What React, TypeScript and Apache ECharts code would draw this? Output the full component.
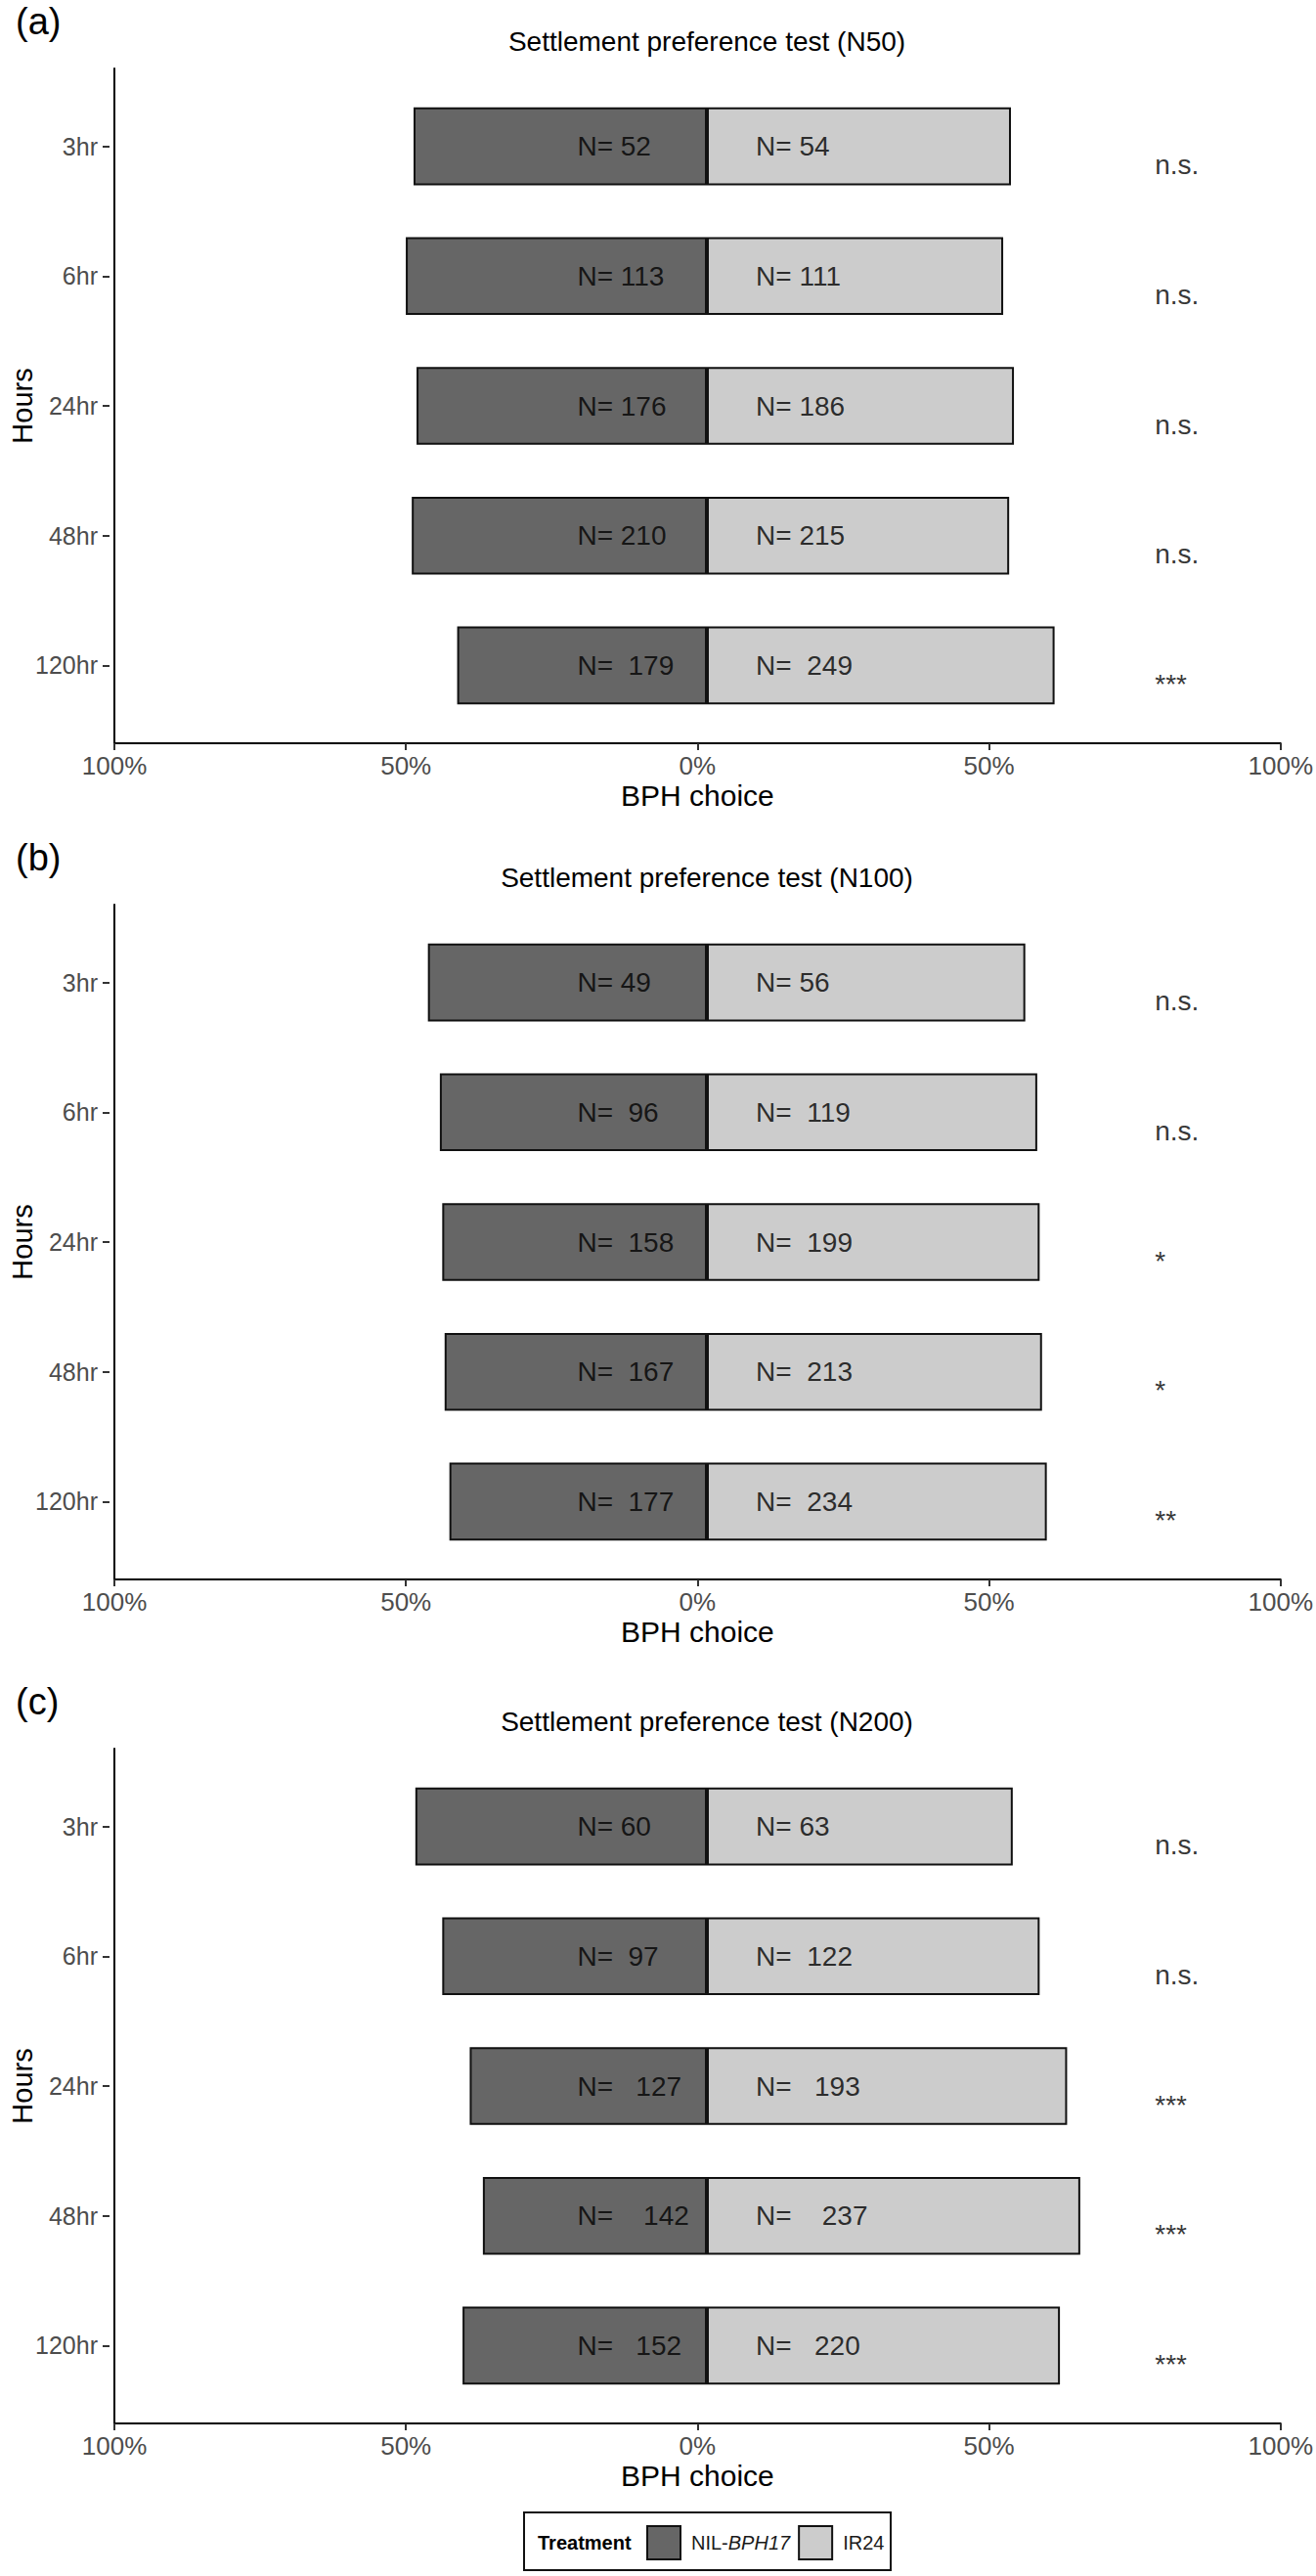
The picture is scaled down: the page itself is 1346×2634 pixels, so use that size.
import React, { useEffect, useRef } from "react";
import * as echarts from "echarts";

// ---------------- data ----------------
const CATEGORIES = ["3hr", "6hr", "24hr", "48hr", "120hr"];
const PANEL_TAGS = ["(a)", "(b)", "(c)"];
const PANEL_TITLES = [
  "Settlement preference test (N50)",
  "Settlement preference test (N100)",
  "Settlement preference test (N200)",
];
const SERIES_NAMES = ["NIL-BPH17", "IR24"];

// share of BPH choosing each line (%)
const NIL_PCT_A = [49.1, 50.4, 48.6, 49.4, 41.8];
const IR_PCT_A = [50.9, 49.6, 51.4, 50.6, 58.2];
const NIL_PCT_B = [46.7, 44.7, 44.3, 43.9, 43.1];
const IR_PCT_B = [53.3, 55.3, 55.7, 56.1, 56.9];
const NIL_PCT_C = [48.8, 44.3, 39.7, 37.5, 40.9];
const IR_PCT_C = [51.2, 55.7, 60.3, 62.5, 59.1];

// counts printed in the bars
const NIL_N_A = [52, 113, 176, 210, 179];
const IR_N_A = [54, 111, 186, 215, 249];
const NIL_N_B = [49, 96, 158, 167, 177];
const IR_N_B = [56, 119, 199, 213, 234];
const NIL_N_C = [60, 97, 127, 142, 152];
const IR_N_C = [63, 122, 193, 237, 220];

// number of spaces after "N=" in the printed labels
const GAP_A = [1, 1, 1, 1, 2];
const GAP_B = [1, 2, 2, 2, 2];
const GAP_C = [1, 2, 3, 4, 3];

// significance marks
const SIG_A = ["n.s.", "n.s.", "n.s.", "n.s.", "***"];
const SIG_B = ["n.s.", "n.s.", "*", "*", "**"];
const SIG_C = ["n.s.", "n.s.", "***", "***", "***"];

// axis
const X_MIN = -100;
const X_MAX = 100;
const X_INTERVAL = 50;

// ---------------- layout / style ----------------
const W = 1346;
const H = 2634;
const FONT = "'Liberation Sans', Arial, Helvetica, sans-serif";
const PANEL_TOPS = [70, 925, 1788];
const AXIS_H = 690;
const GRID_LEFT = 112;
const GRID_W = 1222;
const NIL_LABEL_X = -21.7;
const IR_LABEL_X = 8.2;
const SIG_X = 75;
const DARK = "#666666";
const LIGHT = "#CCCCCC";
const EDGE = "#111111";

const PANELS = [
  { nilPct: NIL_PCT_A, irPct: IR_PCT_A, nilN: NIL_N_A, irN: IR_N_A, gap: GAP_A, sig: SIG_A },
  { nilPct: NIL_PCT_B, irPct: IR_PCT_B, nilN: NIL_N_B, irN: IR_N_B, gap: GAP_B, sig: SIG_B },
  { nilPct: NIL_PCT_C, irPct: IR_PCT_C, nilN: NIL_N_C, irN: IR_N_C, gap: GAP_C, sig: SIG_C },
];

function nLabel(n: number, gap: number): string {
  return "N= " + "\u00A0".repeat(Math.max(0, gap - 1)) + String(n);
}

function buildOption(): any {
  const grid: any[] = [];
  const xAxis: any[] = [];
  const yAxis: any[] = [];
  const series: any[] = [];
  const graphic: any[] = [];
  const unit = AXIS_H / 5.2;

  PANELS.forEach((p, k) => {
    const top = PANEL_TOPS[k];
    const gFrame = grid.length;
    // frame grid (axis lines, x ticks)
    grid.push({ left: GRID_LEFT, width: GRID_W, top, height: AXIS_H, containLabel: false });
    // bar grid (category bands)
    grid.push({
      left: GRID_LEFT,
      width: GRID_W,
      top: top + 0.1 * unit,
      height: 5 * unit,
      containLabel: false,
    });

    xAxis.push({
      type: "value",
      gridIndex: gFrame,
      position: "bottom",
      min: X_MIN,
      max: X_MAX,
      interval: X_INTERVAL,
      axisLine: { show: true, onZero: false, lineStyle: { color: "#000", width: 2 } },
      axisTick: { show: true, length: 7, lineStyle: { color: "#333", width: 2 } },
      axisLabel: {
        show: true,
        showMinLabel: true,
        showMaxLabel: true,
        margin: 10,
        fontSize: 26,
        fontFamily: FONT,
        color: "#4D4D4D",
        formatter: (v: number) => Math.abs(v) + "%",
      },
      splitLine: { show: false },
      name: "BPH choice",
      nameLocation: "middle",
      nameGap: 38,
      nameTextStyle: { fontSize: 30, fontFamily: FONT, color: "#000" },
    });
    xAxis.push({
      type: "value",
      gridIndex: gFrame + 1,
      min: X_MIN,
      max: X_MAX,
      show: false,
    });

    yAxis.push({
      type: "value",
      gridIndex: gFrame,
      position: "left",
      min: 0,
      max: 1,
      axisLine: { show: true, onZero: false, lineStyle: { color: "#000", width: 2 } },
      axisTick: { show: false },
      axisLabel: { show: false },
      splitLine: { show: false },
      name: "Hours",
      nameLocation: "middle",
      nameGap: 80,
      nameTextStyle: { fontSize: 29, fontFamily: FONT, color: "#000" },
    });
    yAxis.push({
      type: "category",
      gridIndex: gFrame + 1,
      position: "left",
      data: CATEGORIES,
      inverse: true,
      axisLine: { show: false, onZero: false },
      axisTick: { show: true, alignWithLabel: true, length: 7, lineStyle: { color: "#333", width: 2 } },
      axisLabel: { show: true, margin: 12, fontSize: 25, fontFamily: FONT, color: "#4D4D4D" },
      splitLine: { show: false },
    });

    const xi = gFrame + 1;
    series.push({
      type: "bar",
      name: SERIES_NAMES[0],
      xAxisIndex: xi,
      yAxisIndex: xi,
      stack: "s" + k,
      barWidth: "60%",
      data: p.nilPct.map((v) => -v),
      itemStyle: { color: DARK, borderColor: EDGE, borderWidth: 2 },
      silent: true,
    });
    series.push({
      type: "bar",
      name: SERIES_NAMES[1],
      xAxisIndex: xi,
      yAxisIndex: xi,
      stack: "s" + k,
      barWidth: "60%",
      data: p.irPct,
      itemStyle: { color: LIGHT, borderColor: EDGE, borderWidth: 2 },
      silent: true,
    });
    const textLabel = {
      show: true,
      position: "right",
      distance: 0,
      fontSize: 28,
      fontFamily: FONT,
      color: "#000",
    };
    series.push({
      type: "scatter",
      name: "nil-count-" + k,
      xAxisIndex: xi,
      yAxisIndex: xi,
      symbolSize: 0,
      silent: true,
      z: 5,
      data: CATEGORIES.map((c, i) => ({
        value: [NIL_LABEL_X, c],
        label: { formatter: nLabel(p.nilN[i], p.gap[i]) },
      })),
      label: textLabel,
    });
    series.push({
      type: "scatter",
      name: "ir-count-" + k,
      xAxisIndex: xi,
      yAxisIndex: xi,
      symbolSize: 0,
      silent: true,
      z: 5,
      data: CATEGORIES.map((c, i) => ({
        value: [IR_LABEL_X, c],
        label: { formatter: nLabel(p.irN[i], p.gap[i]) },
      })),
      label: textLabel,
    });
    series.push({
      type: "scatter",
      name: "sig-" + k,
      xAxisIndex: xi,
      yAxisIndex: xi,
      symbolSize: 0,
      silent: true,
      z: 5,
      data: CATEGORIES.map((c, i) => ({
        value: [SIG_X, c],
        label: { formatter: p.sig[i] },
      })),
      label: { ...textLabel, offset: [0, 19] },
    });

    graphic.push({
      type: "text",
      x: 16,
      y: top - 48,
      style: {
        text: PANEL_TAGS[k],
        fontSize: 38,
        fontFamily: FONT,
        fill: "#000",
        align: "left",
        verticalAlign: "middle",
      },
    });
    graphic.push({
      type: "text",
      x: GRID_LEFT + GRID_W / 2,
      y: top - 28,
      style: {
        text: PANEL_TITLES[k],
        fontSize: 28,
        fontFamily: FONT,
        fill: "#000",
        align: "center",
        verticalAlign: "middle",
      },
    });
  });

  // legend box + title
  graphic.push({
    type: "rect",
    shape: { x: 536, y: 2569, width: 375, height: 59 },
    style: { fill: "none", stroke: EDGE, lineWidth: 2 },
    z: 0,
  });
  graphic.push({
    type: "text",
    x: 550,
    y: 2600,
    style: {
      text: "Treatment",
      fontSize: 20,
      fontWeight: "bold",
      fontFamily: FONT,
      fill: "#000",
      align: "left",
      verticalAlign: "middle",
    },
  });

  return {
    animation: false,
    backgroundColor: "#ffffff",
    textStyle: { fontFamily: FONT },
    grid,
    xAxis,
    yAxis,
    series,
    graphic,
    legend: {
      data: SERIES_NAMES,
      left: 661,
      top: 2582,
      orient: "horizontal",
      icon: "rect",
      itemWidth: 34,
      itemHeight: 34,
      itemGap: 8,
      padding: 0,
      selectedMode: false,
      itemStyle: { borderColor: EDGE, borderWidth: 2 },
      formatter: (name: string) =>
        name === "NIL-BPH17" ? "{n|NIL-}{i|BPH17}" : "{n|IR24}",
      textStyle: {
        fontFamily: FONT,
        fontSize: 20,
        color: "#1a1a1a",
        padding: [0, 0, 0, 6],
        rich: {
          n: { fontFamily: FONT, fontSize: 20, color: "#1a1a1a" },
          i: { fontFamily: FONT, fontSize: 20, fontStyle: "italic", color: "#1a1a1a" },
        },
      },
    },
  };
}

export default function App() {
  const ref = useRef<HTMLDivElement>(null);
  useEffect(() => {
    document.body.style.margin = "0";
    const chart = echarts.init(ref.current as HTMLDivElement, null, { renderer: "svg" });
    chart.setOption(buildOption());
    return () => {
      chart.dispose();
    };
  }, []);
  return <div ref={ref} style={{ width: W, height: H, background: "#fff" }} />;
}
